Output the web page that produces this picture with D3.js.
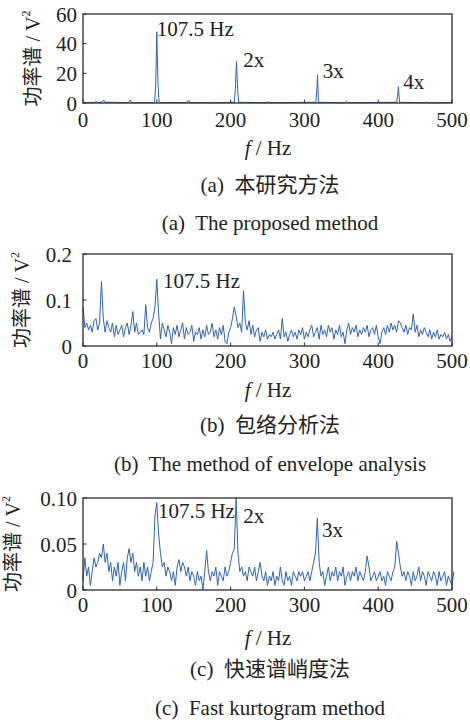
<!DOCTYPE html>
<html>
<head>
<meta charset="utf-8">
<script src="https://cdn.jsdelivr.net/npm/d3@7"></script>
<style>
  html, body { margin: 0; padding: 0; background: #fff; }
  .caption { white-space: pre; }
</style>
</head>
<body>
<div id="chart"></div>
<script>
// ---- data ----
// (a) proposed method: [frequency Hz, power V^2] points, baseline plus narrow peaks
const proposedSpectrum = [
  [0, 0.3], [15, 0.3], [18, 1], [20, 0.3], [26, 0.5], [28, 2], [30, 0.5],
  [62, 0.3], [64, 2], [66, 0.3], [95, 0.3], [97, 0.8], [98.5, 12], [100, 48], [101.5, 14], [103, 1], [105, 0.3],
  [141, 0.3], [143, 2], [145, 0.3], [176, 0.2], [178, 0.6], [180, 0.2],
  [205, 0.5], [206.5, 10], [208, 28], [209.5, 9], [211, 0.5],
  [248, 0.2], [250, 1], [252, 0.2],
  [315.5, 0.5], [317, 10], [317.8, 19], [319, 0.5],
  [355, 0.2], [357, 1.2], [359, 0.2],
  [425, 0.5], [426.5, 6], [427.3, 11], [429, 0.5],
  [463, 0.2], [465, 0.6], [467, 0.2], [500, 0.3]
];

// frequency axis for (b) and (c): 0 to 500 Hz in 2.5 Hz steps
const freqStep = 2.5;

// (b) envelope analysis
const envelopeValues = [
  0.085, 0.04, 0.05, 0.035, 0.045, 0.03, 0.055, 0.06, 0.035, 0.05,
  0.14, 0.06, 0.03, 0.055, 0.04, 0.03, 0.05, 0.02, 0.045, 0.025,
  0.035, 0.045, 0.02, 0.04, 0.05, 0.025, 0.045, 0.075, 0.03, 0.05,
  0.025, 0.03, 0.035, 0.025, 0.09, 0.04, 0.03, 0.05, 0.06, 0.085,
  0.145, 0.07, 0.015, 0.05, 0.035, 0.02, 0.045, 0.03, 0.005, 0.04,
  0.025, 0.045, 0.02, 0.035, 0.05, 0.015, 0.04, 0.025, 0.03, 0.045,
  0.01, 0.03, 0.025, 0.04, 0.015, 0.035, 0.02, 0.045, 0.025, 0.03,
  0.05, 0.02, 0.035, 0.015, 0.04, 0.025, 0.045, 0.01, 0.005, 0.03,
  0.04, 0.06, 0.085, 0.065, 0.04, 0.05, 0.03, 0.12, 0.05, 0.035,
  0.055, 0.025, 0.045, 0.02, 0.035, 0.04, 0.01, 0.03, 0.02, 0.035,
  0.015, 0.025, 0.02, 0.03, 0.015, 0.025, 0.035, 0.015, 0.06, 0.02,
  0.03, 0.01, 0.025, 0.035, 0.02, 0.03, 0.015, 0.035, 0.025, 0.04,
  0.015, 0.03, 0.02, 0.035, 0.045, 0.02, 0.03, 0.04, 0.015, 0.045,
  0.025, 0.035, 0.02, 0.045, 0.03, 0.04, 0.015, 0.035, 0.025, 0.045,
  0.02, 0.03, 0.005, 0.035, 0.05, 0.025, 0.04, 0.03, 0.045, 0.02,
  0.035, 0.025, 0.04, 0.03, 0.045, 0.02, 0.035, 0.04, 0.025, 0.045,
  0.02, 0.005, 0.03, 0.04, 0.025, 0.045, 0.03, 0.05, 0.035, 0.045,
  0.03, 0.055, 0.05, 0.04, 0.03, 0.045, 0.025, 0.04, 0.035, 0.07,
  0.03, 0.045, 0.02, 0.035, 0.025, 0.04, 0.03, 0.02, 0.035, 0.015,
  0.03, 0.02, 0.035, 0.015, 0.025, 0.02, 0.03, 0.015, 0.025, 0.01,
  0.02
];

// (c) fast kurtogram
const kurtogramValues = [
  0.01, 0.035, 0.015, 0.025, 0.005, 0.02, 0.035, 0.025, 0.03, 0.04,
  0.035, 0.05, 0.03, 0.04, 0.02, 0.03, 0.01, 0.025, 0.015, 0.03,
  0.005, 0.02, 0.03, 0.01, 0.035, 0.045, 0.03, 0.04, 0.02, 0.03,
  0.015, 0.025, 0.01, 0.03, 0.015, 0.025, 0.01, 0.02, 0.03, 0.08,
  0.095, 0.06, 0.04, 0.025, 0.03, 0.015, 0.025, 0.02, 0.01, 0.02,
  0.005, 0.025, 0.033, 0.02, 0.03, 0.025, 0.015, 0.025, 0.01, 0.02,
  0.015, 0.005, 0.02, 0.01, 0.015, 0.0, 0.02, 0.043, 0.02, 0.01,
  0.02, 0.015, 0.025, 0.005, 0.02, 0.015, 0.01, 0.025, 0.015, 0.02,
  0.03, 0.04, 0.045, 0.1, 0.04, 0.02, 0.025, 0.015, 0.02, 0.01,
  0.025, 0.02, 0.015, 0.025, 0.01, 0.02, 0.03, 0.015, 0.01, 0.02,
  0.005, 0.015, 0.01, 0.02, 0.005, 0.015, 0.01, 0.025, 0.01, 0.005,
  0.02, 0.01, 0.015, 0.005, 0.02, 0.015, 0.01, 0.02, 0.015, 0.02,
  0.01, 0.015, 0.02, 0.01, 0.02, 0.03, 0.04, 0.078, 0.03, 0.015,
  0.02, 0.005, 0.015, 0.025, 0.01, 0.02, 0.015, 0.025, 0.01, 0.02,
  0.015, 0.025, 0.005, 0.015, 0.02, 0.01, 0.02, 0.015, 0.025, 0.01,
  0.02, 0.015, 0.01, 0.02, 0.037, 0.025, 0.01, 0.015, 0.02, 0.01,
  0.015, 0.02, 0.01, 0.015, 0.005, 0.02, 0.015, 0.01, 0.02, 0.025,
  0.053, 0.04, 0.025, 0.015, 0.02, 0.01, 0.02, 0.015, 0.005, 0.02,
  0.01, 0.015, 0.025, 0.01, 0.02, 0.015, 0.005, 0.02, 0.015, 0.01,
  0.02, 0.015, 0.005, 0.02, 0.01, 0.015, 0.02, 0.005, 0.015, 0.01,
  0.005, 0.02
];

const xTicks = [0, 100, 200, 300, 400, 500];
const yTicksA = [0, 20, 40, 60];
const yTicksB = [0, 0.1, 0.2];
const yTicksC = [0, 0.05, 0.10];
const yTickLabelsA = ["0", "20", "40", "60"];
const yTickLabelsB = ["0", "0.1", "0.2"];
const yTickLabelsC = ["0", "0.05", "0.10"];

// peak annotations: [label, frequency, value]
const notesA = [["107.5 Hz", 100, 45], ["2x", 217, 24.3], ["3x", 325, 16.9], ["4x", 434, 9.4]];
const notesB = [["107.5 Hz", 108.5, 0.126]];
const notesC = [["107.5 Hz", 101.5, 0.078], ["2x", 217, 0.073], ["3x", 324, 0.058]];

const captionsCn = ["(a)  本研究方法", "(b)  包络分析法", "(c)  快速谱峭度法"];
const captionsEn = ["(a)  The proposed method", "(b)  The method of envelope analysis", "(c)  Fast kurtogram method"];

// ---- drawing ----
const W = 470, H = 722;
const lineColor = "#2f63b3";
const frameColor = "#2a2a2a";
const serif = "'Liberation Serif', 'DejaVu Serif', 'Noto Sans CJK SC', serif";

const svg = d3.select("#chart")
  .append("svg")
    .attr("width", W)
    .attr("height", H)
    .attr("font-family", serif)
    .style("font-family", serif);

const x = d3.scaleLinear().domain([0, 500]).range([83, 452]);

const panels = [
  { points: proposedSpectrum, yMax: 60, ticks: yTicksA, tickLabels: yTickLabelsA, notes: notesA,
    top: 14, bottom: 103, yLabelX: 33, tickGap: 6, tickBase: 127, unitBase: 155, cnBase: 192, enBase: 230 },
  { points: envelopeValues.map((v, i) => [i * freqStep, v]), yMax: 0.2, ticks: yTicksB, tickLabels: yTickLabelsB, notes: notesB,
    top: 254, bottom: 346, yLabelX: 22, tickGap: 11, tickBase: 368, unitBase: 397, cnBase: 432, enBase: 471 },
  { points: kurtogramValues.map((v, i) => [i * freqStep, v]), yMax: 0.10, ticks: yTicksC, tickLabels: yTickLabelsC, notes: notesC,
    top: 498, bottom: 590, yLabelX: 13, tickGap: 6, tickBase: 612, unitBase: 645, cnBase: 676, enBase: 715 }
];

panels.forEach((p, k) => {
  const y = d3.scaleLinear().domain([0, p.yMax]).range([p.bottom, p.top]);
  const g = svg.append("g").attr("class", "panel").attr("fill", "#222");

  // spectrum line
  const line = d3.line()
    .x(d => x(d[0]))
    .y(d => y(d[1]));
  g.append("path")
    .datum(p.points)
    .attr("d", line)
    .attr("fill", "none")
    .attr("stroke", lineColor)
    .attr("stroke-width", 1)
    .attr("stroke-linejoin", "round");

  // inward ticks
  g.append("g")
    .selectAll("line")
    .data(xTicks)
    .join("line")
      .attr("x1", d => x(d)).attr("x2", d => x(d))
      .attr("y1", p.bottom).attr("y2", p.bottom - 3.5)
      .attr("stroke", frameColor).attr("stroke-width", 1);
  g.append("g")
    .selectAll("line")
    .data(p.ticks)
    .join("line")
      .attr("x1", 83).attr("x2", 86.5)
      .attr("y1", d => y(d)).attr("y2", d => y(d))
      .attr("stroke", frameColor).attr("stroke-width", 1);

  // frame
  g.append("rect")
    .attr("x", x(0)).attr("y", p.top)
    .attr("width", x(500) - x(0)).attr("height", p.bottom - p.top)
    .attr("fill", "none")
    .attr("stroke", frameColor)
    .attr("stroke-width", 1.3);

  // tick labels
  g.append("g")
    .selectAll("text")
    .data(xTicks)
    .join("text")
      .attr("x", d => x(d))
      .attr("y", p.tickBase)
      .attr("text-anchor", "middle")
      .attr("font-size", 21)
      .text(d => d);
  g.append("g")
    .selectAll("text")
    .data(p.ticks)
    .join("text")
      .attr("x", 83 - p.tickGap)
      .attr("y", d => y(d))
      .attr("dy", "0.36em")
      .attr("text-anchor", "end")
      .attr("font-size", 21)
      .text((d, i) => p.tickLabels[i]);

  // y axis title
  const yt = g.append("text")
    .attr("transform", `translate(${p.yLabelX},${(p.top + p.bottom) / 2}) rotate(-90)`)
    .attr("text-anchor", "middle")
    .attr("dominant-baseline", "central")
    .attr("font-size", 20);
  yt.append("tspan").text("功率谱 / V");
  yt.append("tspan").attr("font-size", 12).attr("dy", -7).text("2");

  // x axis title
  const xt = g.append("text")
    .attr("x", 268)
    .attr("y", p.unitBase)
    .attr("text-anchor", "middle")
    .attr("font-size", 21);
  xt.append("tspan").attr("font-style", "italic").text("f");
  xt.append("tspan").text(" / Hz");

  // peak annotations
  g.append("g")
    .selectAll("text")
    .data(p.notes)
    .join("text")
      .attr("x", d => x(d[1]))
      .attr("y", d => y(d[2]))
      .attr("font-size", 21)
      .text(d => d[0]);

  // captions
  g.append("text")
    .attr("class", "caption")
    .attr("x", 270).attr("y", p.cnBase)
    .attr("text-anchor", "middle")
    .attr("font-size", 21)
    .text(captionsCn[k]);
  g.append("text")
    .attr("class", "caption")
    .attr("x", 270).attr("y", p.enBase)
    .attr("text-anchor", "middle")
    .attr("font-size", 21)
    .text(captionsEn[k]);
});
</script>
</body>
</html>
